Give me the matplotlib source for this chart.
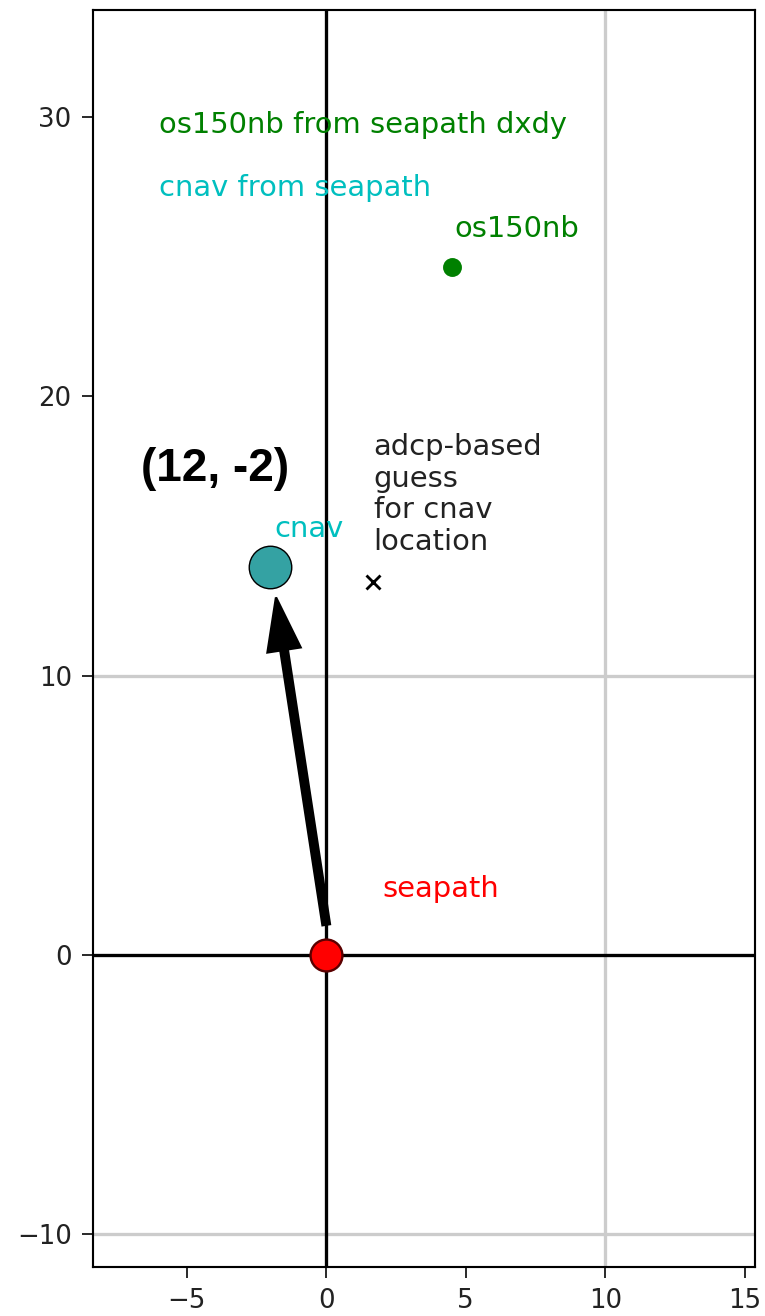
import matplotlib
matplotlib.use("Agg")
import matplotlib.pyplot as plt

# positions (x, y)
seapath_xy = (0.0, 0.0)
cnav_xy = (-2.0, 13.9)
os150nb_xy = (4.5, 24.65)
guess_xy = (1.67, 13.37)
arrow_tail = (0.0, 1.08)
arrow_head = (-1.8, 12.8)
ref_lines = [-10, 10]
label_text = "(12, -2)"
xticks = [-5, 0, 5, 10, 15]
yticks = [-10, 0, 10, 20, 30]

fig = plt.figure(figsize=(765 / 170, 1316 / 170), dpi=170)
ax = fig.add_axes([93 / 765, (1316 - 1267) / 1316, (755 - 93) / 765, (1267 - 10) / 1316])

for v in ref_lines:
    ax.axhline(v, color="#cccccc", lw=1.4, zorder=1)
    ax.axvline(v, color="#cccccc", lw=1.4, zorder=1)
ax.axhline(0, color="black", lw=1.4, zorder=2)
ax.axvline(0, color="black", lw=1.4, zorder=2)

ax.plot([seapath_xy[0]], [seapath_xy[1]], "o", color="red", mec="#5a0000", mew=1.0,
        ms=13.5, zorder=5)
ax.plot([cnav_xy[0]], [cnav_xy[1]], "o", color="#34a2a3", mec="black", mew=0.6,
        ms=18, zorder=5)
ax.plot([os150nb_xy[0]], [os150nb_xy[1]], "o", color="green", ms=7, zorder=5)
ax.plot([guess_xy[0]], [guess_xy[1]], "x", color="black", ms=6, mew=1.2, zorder=5)

ax.arrow(arrow_tail[0], arrow_tail[1], arrow_head[0] - arrow_tail[0], arrow_head[1] - arrow_tail[1],
         width=0.27, head_width=1.2, head_length=1.9, length_includes_head=True,
         color="black", zorder=6)

fs = 12.3
ax.text(-6.0, 29.43, "os150nb from seapath dxdy", color="green", fontsize=fs)
ax.text(-6.0, 27.17, "cnav from seapath", color="c", fontsize=fs)
ax.text(os150nb_xy[0] + 0.1, 25.7, "os150nb", color="green", fontsize=fs)
ax.text(cnav_xy[0] + 0.15, 14.98, "cnav", color="c", fontsize=fs)
ax.text(2.0, 2.08, "seapath", color="red", fontsize=fs)
ax.text(1.7, 14.5, "adcp-based\nguess\nfor cnav\nlocation", color="#222222", fontsize=fs,
        va="baseline", linespacing=1.17)
ax.text(-4.0, 17.4, label_text, fontsize=19.5, fontweight="bold",
        family=["Liberation Sans", "DejaVu Sans"], ha="center", va="center")

ax.set_xlim(-8.36, 15.37)
ax.set_ylim(-11.18, 33.84)
ax.set_xticks(xticks)
ax.set_yticks(yticks)
ax.tick_params(labelsize=11, length=4.5, pad=4.5, color="#222222", labelcolor="#222222")
for s in ax.spines.values():
    s.set_linewidth(0.9)

fig.savefig("out.png", dpi=170)
